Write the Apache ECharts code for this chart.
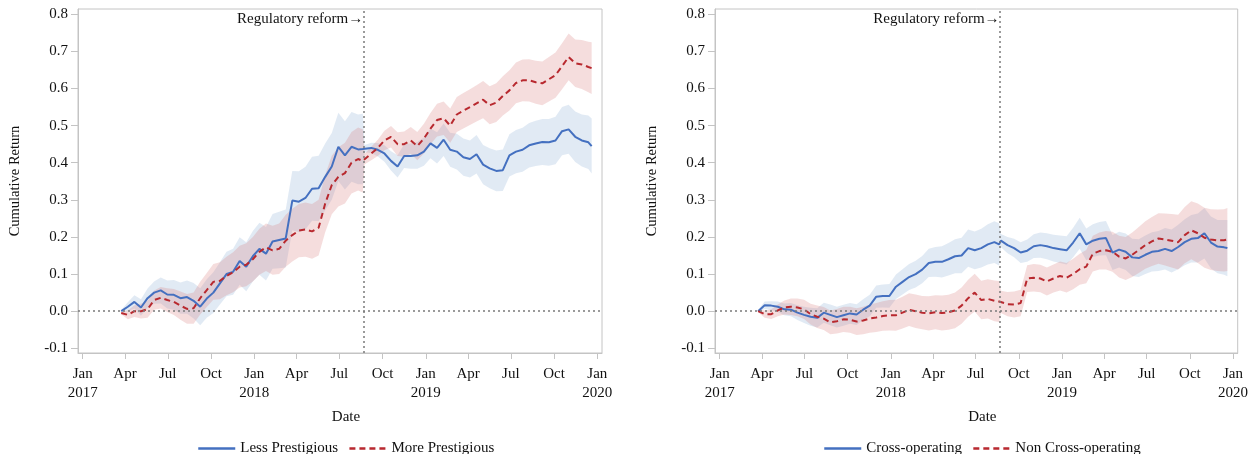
<!DOCTYPE html>
<html><head><meta charset="utf-8">
<script src="https://cdn.jsdelivr.net/npm/echarts@6/dist/echarts.min.js"></script>
<style>html,body{margin:0;padding:0;background:#fff}#c{width:1251px;height:454px}</style>
</head><body><div id="c"></div>
<script>
// ---------- data ----------
const dates = ['2017-03-24','2017-04-07','2017-04-21','2017-05-05','2017-05-19','2017-06-02','2017-06-16','2017-06-30','2017-07-14','2017-07-28','2017-08-11','2017-08-25','2017-09-08','2017-09-22','2017-10-06','2017-10-20','2017-11-03','2017-11-17','2017-12-01','2017-12-15','2017-12-29','2018-01-12','2018-01-26','2018-02-09','2018-02-23','2018-03-09','2018-03-23','2018-04-06','2018-04-20','2018-05-04','2018-05-18','2018-06-01','2018-06-15','2018-06-29','2018-07-13','2018-07-27','2018-08-10','2018-08-20','2018-08-24','2018-09-07','2018-09-21','2018-10-05','2018-10-19','2018-11-02','2018-11-16','2018-11-30','2018-12-14','2018-12-28','2019-01-11','2019-01-25','2019-02-08','2019-02-22','2019-03-08','2019-03-22','2019-04-05','2019-04-19','2019-05-03','2019-05-17','2019-05-31','2019-06-14','2019-06-28','2019-07-12','2019-07-26','2019-08-09','2019-08-23','2019-09-06','2019-09-20','2019-10-04','2019-10-18','2019-11-01','2019-11-15','2019-11-29','2019-12-13','2019-12-20'];

// Left panel
const lessPrestigious = [0.000,0.012,0.025,0.010,0.035,0.050,0.056,0.045,0.044,0.035,0.038,0.028,0.012,0.034,0.050,0.075,0.100,0.106,0.135,0.120,0.148,0.168,0.155,0.188,0.192,0.196,0.298,0.295,0.305,0.330,0.331,0.362,0.390,0.443,0.420,0.443,0.436,0.437,0.438,0.440,0.435,0.425,0.405,0.390,0.418,0.418,0.420,0.430,0.452,0.440,0.462,0.435,0.430,0.415,0.410,0.423,0.395,0.385,0.378,0.380,0.420,0.430,0.435,0.447,0.452,0.456,0.455,0.460,0.485,0.490,0.470,0.460,0.455,0.445];
const lessPrestigiousCI = [0.003,0.012,0.018,0.022,0.026,0.030,0.035,0.038,0.040,0.042,0.045,0.048,0.050,0.052,0.055,0.057,0.060,0.062,0.064,0.066,0.068,0.070,0.072,0.074,0.076,0.078,0.080,0.082,0.084,0.086,0.088,0.090,0.090,0.092,0.092,0.094,0.094,0.095,0.010,0.014,0.018,0.022,0.026,0.030,0.032,0.034,0.036,0.038,0.040,0.042,0.044,0.046,0.048,0.050,0.050,0.052,0.053,0.054,0.055,0.056,0.057,0.058,0.059,0.060,0.061,0.062,0.063,0.064,0.065,0.066,0.068,0.070,0.072,0.074];
const morePrestigious = [-0.005,-0.010,0.000,0.000,0.005,0.030,0.036,0.030,0.025,0.015,0.006,0.008,0.035,0.057,0.079,0.082,0.095,0.105,0.120,0.125,0.140,0.160,0.172,0.164,0.168,0.190,0.205,0.217,0.220,0.215,0.225,0.290,0.340,0.362,0.372,0.400,0.410,0.405,0.410,0.425,0.440,0.460,0.470,0.450,0.450,0.460,0.445,0.465,0.492,0.515,0.520,0.500,0.530,0.540,0.550,0.560,0.570,0.555,0.562,0.580,0.595,0.615,0.622,0.622,0.617,0.614,0.625,0.636,0.660,0.685,0.668,0.665,0.658,0.655];
const morePrestigiousCI = [0.003,0.012,0.016,0.020,0.023,0.026,0.029,0.032,0.035,0.038,0.040,0.042,0.044,0.046,0.048,0.050,0.052,0.054,0.056,0.058,0.060,0.062,0.064,0.066,0.068,0.070,0.071,0.072,0.073,0.074,0.075,0.077,0.079,0.080,0.082,0.083,0.085,0.085,0.014,0.018,0.022,0.026,0.029,0.032,0.034,0.036,0.038,0.040,0.042,0.044,0.045,0.046,0.047,0.048,0.048,0.049,0.050,0.051,0.052,0.053,0.054,0.055,0.056,0.057,0.058,0.059,0.060,0.061,0.062,0.063,0.064,0.066,0.068,0.070];

// Right panel
const crossOperating = [0.000,0.016,0.015,0.012,0.005,0.004,-0.004,-0.010,-0.015,-0.018,-0.004,-0.010,-0.016,-0.011,-0.006,-0.009,0.004,0.015,0.039,0.041,0.041,0.066,0.079,0.092,0.100,0.112,0.130,0.133,0.133,0.140,0.148,0.150,0.170,0.164,0.170,0.180,0.186,0.180,0.190,0.178,0.170,0.158,0.163,0.175,0.178,0.175,0.170,0.167,0.164,0.185,0.210,0.180,0.190,0.195,0.197,0.158,0.166,0.160,0.145,0.143,0.152,0.160,0.162,0.168,0.162,0.173,0.186,0.195,0.197,0.210,0.185,0.174,0.172,0.170];
const crossOperatingCI = [0.003,0.010,0.012,0.014,0.016,0.018,0.020,0.022,0.024,0.026,0.027,0.028,0.028,0.028,0.028,0.028,0.028,0.029,0.030,0.031,0.032,0.033,0.034,0.035,0.036,0.037,0.038,0.040,0.042,0.044,0.046,0.048,0.050,0.051,0.052,0.054,0.056,0.057,0.018,0.022,0.025,0.028,0.030,0.032,0.034,0.035,0.036,0.037,0.038,0.040,0.042,0.043,0.044,0.045,0.046,0.047,0.048,0.049,0.050,0.051,0.052,0.053,0.054,0.056,0.058,0.060,0.062,0.064,0.066,0.068,0.070,0.072,0.074,0.076];
const nonCrossOperating = [0.000,-0.008,-0.008,0.002,0.010,0.012,0.010,0.005,-0.008,-0.015,-0.020,-0.030,-0.027,-0.022,-0.023,-0.028,-0.025,-0.020,-0.017,-0.013,-0.011,-0.011,-0.004,0.004,0.000,-0.004,-0.006,-0.003,-0.005,-0.003,0.002,0.015,0.035,0.050,0.030,0.033,0.028,0.026,0.025,0.019,0.018,0.022,0.088,0.090,0.088,0.080,0.088,0.095,0.090,0.100,0.113,0.120,0.155,0.162,0.164,0.160,0.147,0.142,0.152,0.165,0.178,0.188,0.196,0.193,0.190,0.186,0.205,0.218,0.210,0.198,0.193,0.191,0.191,0.193];
const nonCrossOperatingCI = [0.003,0.010,0.013,0.016,0.019,0.022,0.024,0.026,0.028,0.030,0.031,0.032,0.033,0.034,0.035,0.036,0.037,0.038,0.039,0.040,0.041,0.042,0.043,0.044,0.045,0.045,0.046,0.046,0.047,0.047,0.048,0.049,0.050,0.051,0.052,0.053,0.055,0.055,0.030,0.033,0.035,0.036,0.036,0.037,0.037,0.038,0.038,0.039,0.040,0.041,0.042,0.045,0.048,0.050,0.052,0.054,0.056,0.058,0.060,0.062,0.064,0.066,0.068,0.070,0.072,0.074,0.076,0.078,0.080,0.081,0.082,0.083,0.084,0.085];

const xTicks = ['2017-01-01','2017-04-01','2017-07-01','2017-10-01','2018-01-01','2018-04-01','2018-07-01','2018-10-01','2019-01-01','2019-04-01','2019-07-01','2019-10-01','2020-01-01'];
const yTicks = [-0.1,0.0,0.1,0.2,0.3,0.4,0.5,0.6,0.7,0.8];
const reformDate = '2018-08-21';
const reformLabel = 'Regulatory reform\u2192';
const xRange = ['2016-12-22','2020-01-11'];
const yRange = [-0.1127, 0.8143];

// ---------- chart ----------
const FONT = 'Liberation Serif';
const ts = d => Date.parse(d + 'T00:00:00Z');
const MONTHS = ['Jan','Feb','Mar','Apr','May','Jun','Jul','Aug','Sep','Oct','Nov','Dec'];
const fmtX = v => { const d = new Date(v); const m = d.getUTCMonth(); return m === 0 ? 'Jan\n' + d.getUTCFullYear() : MONTHS[m]; };
const BLUE = '#4470c0', RED = '#b8292f';
const BLUE_BAND = 'rgba(138,172,212,0.26)', RED_BAND = 'rgba(218,122,122,0.26)';
const GRID_C = '#c4c4c4';
const txt = { color: '#111', fontFamily: FONT, fontSize: 15 };

const grids = [
  { left: 78, top: 9, width: 524, height: 344 },
  { left: 715, top: 9, width: 523, height: 344 }
];

function xAxisFor(i) {
  return {
    gridIndex: i, type: 'value', min: ts(xRange[0]), max: ts(xRange[1]),
    name: 'Date', nameLocation: 'middle', nameGap: 57,
    nameTextStyle: Object.assign({}, txt, { padding: [0, 0, 0, 12] }),
    axisLine: { show: true, onZero: false, lineStyle: { color: GRID_C } },
    axisTick: { show: true, length: 6, customValues: xTicks.map(ts), lineStyle: { color: GRID_C } },
    axisLabel: Object.assign({}, txt, { customValues: xTicks.map(ts), formatter: fmtX, margin: 12, lineHeight: 19 }),
    splitLine: { show: false }
  };
}
function yAxisFor(i) {
  return {
    gridIndex: i, type: 'value', min: yRange[0], max: yRange[1],
    name: 'Cumulative Return', nameLocation: 'middle', nameGap: 55, nameRotate: 90,
    nameTextStyle: Object.assign({}, txt, { fontSize: 14.5 }),
    axisLine: { show: true, onZero: false, lineStyle: { color: GRID_C } },
    axisTick: { show: true, length: 7, customValues: yTicks, lineStyle: { color: GRID_C } },
    axisLabel: Object.assign({}, txt, { customValues: yTicks, formatter: v => v.toFixed(1), margin: 10 }),
    splitLine: { show: false }
  };
}

// confidence band drawn as one polygon through the axis scales
function band(vals, ci, color, i) {
  const rows = dates.map((d, k) => [ts(d), vals[k] - ci[k], vals[k] + ci[k]]);
  return {
    type: 'custom', xAxisIndex: i, yAxisIndex: i, silent: true, z: 1,
    encode: { x: 0, y: [1, 2] },
    data: rows,
    renderItem: function (params, api) {
      if (params.dataIndex !== 0) return null;
      const up = rows.map(r => api.coord([r[0], r[2]]));
      const lo = rows.map(r => api.coord([r[0], r[1]])).reverse();
      return { type: 'polygon', shape: { points: up.concat(lo) }, style: { fill: color } };
    }
  };
}
function line(name, vals, color, dashed, i, marks) {
  const s = { name: name, type: 'line', xAxisIndex: i, yAxisIndex: i, z: 3, symbol: 'none', silent: true,
    itemStyle: { color: color },
    lineStyle: { color: color, width: 2, type: dashed ? [6, 4] : 'solid' },
    data: dates.map((d, k) => [ts(d), vals[k]]) };
  if (marks) {
    s.markLine = { silent: true, symbol: ['none', 'none'], label: { show: false },
      lineStyle: { color: '#7a7a7a', width: 1.5, type: [2, 3] },
      data: [{ xAxis: ts(reformDate) }, { yAxis: 0 }] };
    s.markPoint = { silent: true, symbol: 'circle', symbolSize: 0,
      label: Object.assign({}, txt, { show: true, position: 'left', distance: 0, formatter: reformLabel }),
      data: [{ coord: [ts(reformDate), 0.787] }] };
  }
  return s;
}

const series = [
  band(lessPrestigious, lessPrestigiousCI, BLUE_BAND, 0),
  band(morePrestigious, morePrestigiousCI, RED_BAND, 0),
  band(crossOperating, crossOperatingCI, BLUE_BAND, 1),
  band(nonCrossOperating, nonCrossOperatingCI, RED_BAND, 1),
  line('Less Prestigious', lessPrestigious, BLUE, false, 0, true),
  line('More Prestigious', morePrestigious, RED, true, 0, false),
  line('Cross-operating', crossOperating, BLUE, false, 1, true),
  line('Non Cross-operating', nonCrossOperating, RED, true, 1, false)
];

const legendBase = { top: 436, itemWidth: 37, itemHeight: 14, itemGap: 10, textStyle: txt, selectedMode: false,
  itemStyle: { opacity: 0 }, lineStyle: { width: 2.5 } };
const chart = echarts.init(document.getElementById('c'), null, { renderer: 'canvas' });
chart.setOption({
  animation: false,
  backgroundColor: '#fff',
  grid: grids.map(g => Object.assign({ show: true, borderColor: GRID_C, borderWidth: 1, containLabel: false }, g)),
  xAxis: [xAxisFor(0), xAxisFor(1)],
  yAxis: [yAxisFor(0), yAxisFor(1)],
  legend: [
    Object.assign({ left: 192, data: ['Less Prestigious', 'More Prestigious'] }, legendBase),
    Object.assign({ left: 818, data: ['Cross-operating', 'Non Cross-operating'] }, legendBase)
  ],
  series: series
});
</script></body></html>
